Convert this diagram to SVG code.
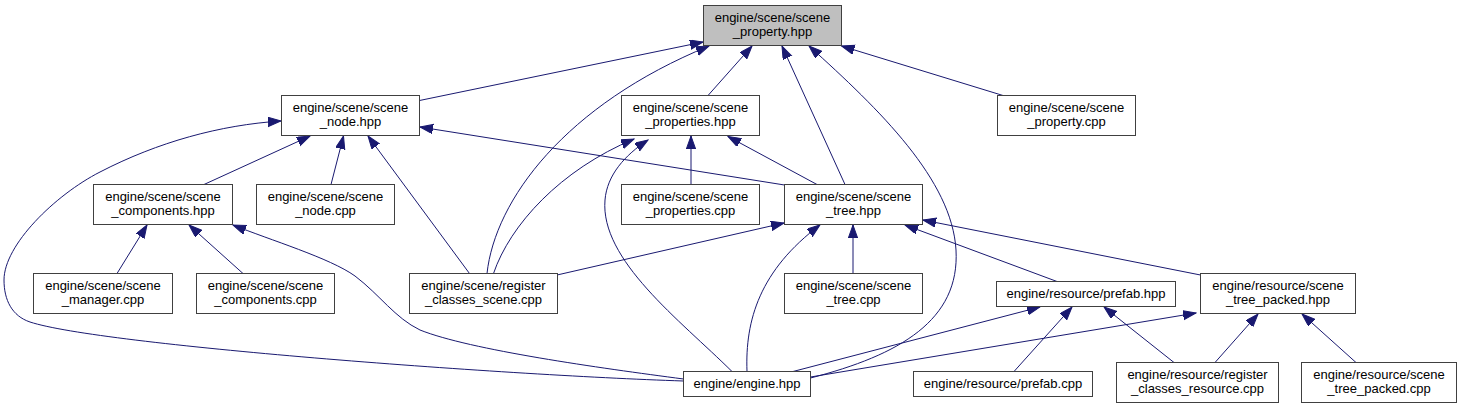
<svg xmlns="http://www.w3.org/2000/svg" width="1461" height="409" viewBox="0 0 1461 409">
<style>
.n rect{fill:#ffffff;stroke:#404040;stroke-width:1}
.n.cur rect{fill:#bfbfbf}
.n text{font-family:"Liberation Sans",Arial,Helvetica,sans-serif;font-size:13px;fill:#000000;text-anchor:middle}
.e path{fill:none;stroke:#191970;stroke-width:1;marker-end:url(#arr)}
</style>
<defs>
<marker id="arr" markerUnits="userSpaceOnUse" markerWidth="14" markerHeight="11" refX="13" refY="4.65" orient="auto">
<path d="M0,0 L13,4.65 L0,9.3 z" fill="#191970" stroke="#191970" stroke-width="1"/>
</marker>
</defs>
<rect width="1461" height="409" fill="#ffffff"/>
<g id="edges" class="e">
<path d="M419.5,100.5 L703,42"/>
<path d="M487,273.5 C495,200 565,105 709,46"/>
<path d="M708,95.5 L752,46"/>
<path d="M845,184.5 L782,46"/>
<path d="M810.5,378 C900,355 960,320 956,250 C952,180 880,110 809,46"/>
<path d="M1003,95.5 L841.5,46"/>
<path d="M683.5,381 C500,375 100,345 30,322 C12,316 4,300 4,280 C4,245 55,195 100,172 C158,142 220,125 281,121"/>
<path d="M204,184.5 L310,136"/>
<path d="M331,184.5 L343.5,136"/>
<path d="M469.5,273.5 L368,136"/>
<path d="M784.5,185 L420,127"/>
<path d="M493.5,273.5 C510,225 560,170 634,139"/>
<path d="M732,371.5 C680,320 600,260 605,200 C607,175 625,155 648,140"/>
<path d="M691,184.5 L691,136"/>
<path d="M817,184.5 L728,136.5"/>
<path d="M117,273.5 L147,225"/>
<path d="M243,273.5 L189,225"/>
<path d="M683.5,379 C600,368 470,350 420,330 C395,318 380,295 355,276 C330,258 270,240 233,225"/>
<path d="M557,275 L784,223"/>
<path d="M747,371.5 C745,320 760,270 820,225"/>
<path d="M853,273.5 L853,225"/>
<path d="M1057,281.5 L905,225"/>
<path d="M1200.5,275 L923,220"/>
<path d="M793,371.5 L1040,307"/>
<path d="M1014,371.5 L1072,307"/>
<path d="M1174,362.5 L1104,307"/>
<path d="M810.5,377 L1196,313"/>
<path d="M1215,362.5 L1258,314"/>
<path d="M1356,362.5 L1302,314"/>
</g>
<g id="scene_property_hpp" class="n cur"><rect x="703.5" y="5.5" width="138" height="40"/><text x="772.5" y="21.5">engine/scene/scene</text><text x="772.5" y="36">_property.hpp</text></g>
<g id="scene_node_hpp" class="n"><rect x="281.5" y="95.5" width="138" height="40"/><text x="350.5" y="111.5">engine/scene/scene</text><text x="350.5" y="126">_node.hpp</text></g>
<g id="scene_properties_hpp" class="n"><rect x="621.5" y="95.5" width="138" height="40"/><text x="690.5" y="111.5">engine/scene/scene</text><text x="690.5" y="126">_properties.hpp</text></g>
<g id="scene_property_cpp" class="n"><rect x="997.5" y="95.5" width="138" height="40"/><text x="1066.5" y="111.5">engine/scene/scene</text><text x="1066.5" y="126">_property.cpp</text></g>
<g id="scene_components_hpp" class="n"><rect x="93.5" y="184.5" width="139" height="40"/><text x="163" y="200.5">engine/scene/scene</text><text x="163" y="215">_components.hpp</text></g>
<g id="scene_node_cpp" class="n"><rect x="256.5" y="184.5" width="138" height="40"/><text x="325.5" y="200.5">engine/scene/scene</text><text x="325.5" y="215">_node.cpp</text></g>
<g id="scene_properties_cpp" class="n"><rect x="621.5" y="184.5" width="138" height="40"/><text x="690.5" y="200.5">engine/scene/scene</text><text x="690.5" y="215">_properties.cpp</text></g>
<g id="scene_tree_hpp" class="n"><rect x="784.5" y="184.5" width="138" height="40"/><text x="853.5" y="200.5">engine/scene/scene</text><text x="853.5" y="215">_tree.hpp</text></g>
<g id="scene_manager_cpp" class="n"><rect x="33.5" y="273.5" width="139" height="40"/><text x="103" y="289.5">engine/scene/scene</text><text x="103" y="304">_manager.cpp</text></g>
<g id="scene_components_cpp" class="n"><rect x="196.5" y="273.5" width="138" height="40"/><text x="265.5" y="289.5">engine/scene/scene</text><text x="265.5" y="304">_components.cpp</text></g>
<g id="register_classes_scene_cpp" class="n"><rect x="409.5" y="273.5" width="148" height="40"/><text x="483.5" y="289.5">engine/scene/register</text><text x="483.5" y="304">_classes_scene.cpp</text></g>
<g id="scene_tree_cpp" class="n"><rect x="784.5" y="273.5" width="138" height="40"/><text x="853.5" y="289.5">engine/scene/scene</text><text x="853.5" y="304">_tree.cpp</text></g>
<g id="prefab_hpp" class="n"><rect x="996.5" y="281.5" width="179" height="25"/><text x="1086" y="297.5">engine/resource/prefab.hpp</text></g>
<g id="scene_tree_packed_hpp" class="n"><rect x="1200.5" y="273.5" width="155" height="40"/><text x="1278" y="289.5">engine/resource/scene</text><text x="1278" y="304">_tree_packed.hpp</text></g>
<g id="engine_hpp" class="n"><rect x="683.5" y="371.5" width="127" height="25"/><text x="747" y="387.5">engine/engine.hpp</text></g>
<g id="prefab_cpp" class="n"><rect x="913.5" y="371.5" width="179" height="25"/><text x="1003" y="387.5">engine/resource/prefab.cpp</text></g>
<g id="register_classes_resource_cpp" class="n"><rect x="1116.5" y="362.5" width="162" height="40"/><text x="1197.5" y="378.5">engine/resource/register</text><text x="1197.5" y="393">_classes_resource.cpp</text></g>
<g id="scene_tree_packed_cpp" class="n"><rect x="1301.5" y="362.5" width="155" height="40"/><text x="1379" y="378.5">engine/resource/scene</text><text x="1379" y="393">_tree_packed.cpp</text></g>
</svg>
